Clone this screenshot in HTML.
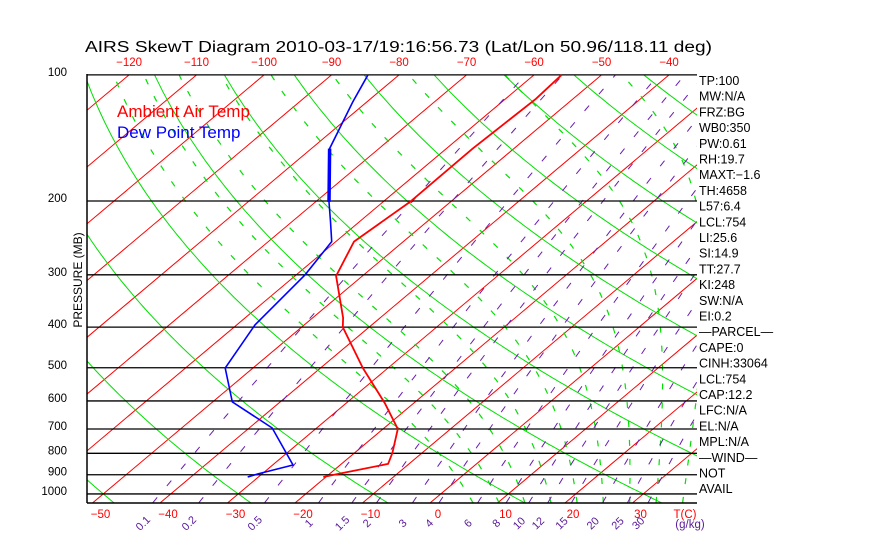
<!DOCTYPE html>
<html><head><meta charset="utf-8"><style>
html,body{margin:0;padding:0;background:#fff;width:870px;height:560px;overflow:hidden}
svg{display:block;font-family:"Liberation Sans",sans-serif}
</style></head><body>
<svg id="chart" width="870" height="560" viewBox="0 0 870 560" xmlns="http://www.w3.org/2000/svg">
<defs><clipPath id="plotclip"><rect x="87" y="74" width="610" height="429"/></clipPath></defs>
<text x="85" y="52" font-size="15.5" textLength="627" lengthAdjust="spacingAndGlyphs">AIRS SkewT Diagram 2010-03-17/19:16:56.73 (Lat/Lon 50.96/118.11 deg)</text>
<g id="bg" clip-path="url(#plotclip)"></g>
<g id="fg"></g>
<text x="117" y="117" font-size="17" fill="#ff0000">Ambient Air Temp</text>
<text x="117" y="138" font-size="17" fill="#0000ff">Dew Point Temp</text>
<text transform="translate(82,280) rotate(-90)" font-size="12" text-anchor="middle">PRESSURE (MB)</text>
</svg>
<script>
// ---- data ----
const tempP = [100,114,150,201,250,302,380,400,501,607,700,798,848,896,911];
const tempT = [-55.9,-55.5,-56.1,-56.0,-57.3,-53.9,-45.5,-43.9,-33.7,-24.3,-17.8,-14.4,-13.1,-18.7,-20.4];
const dewP = [100,116,150,201,224,250,300,380,395,501,603,696,853,896,911];
const dewT = [-84.6,-82.1,-77.3,-68.0,-64.3,-60.6,-58.7,-57.5,-57.3,-54.1,-47.1,-36.6,-27.0,-30.6,-31.6];
const pressureLevels = [100,200,300,400,500,600,700,800,900,1000];
const bottomTempTicks = [-50,-40,-30,-20,-10,0,10,20,30];
const topTempTicks = [-120,-110,-100,-90,-80,-70,-60,-50,-40];
const mixingRatios = [0.1,0.2,0.5,1,1.5,2,3,4,6,8,10,12,15,20,25,30];
const mixingLabels = ["0.1","0.2","0.5","1","1.5","2","3","4","6","8","10","12","15","20","25","30"];
const statLabels = ["TP:100","MW:N/A","FRZ:BG","WB0:350","PW:0.61","RH:19.7","MAXT:-1.6","TH:4658","L57:6.4","LCL:754","LI:25.6","SI:14.9","TT:27.7","KI:248","SW:N/A","EI:0.2","\u2014PARCEL\u2014","CAPE:0","CINH:33064","LCL:754","CAP:12.2","LFC:N/A","EL:N/A","MPL:N/A","\u2014WIND\u2014"," NOT"," AVAIL"];
// ---- axes ----
const Y0=503, X0=430, PX_PER_C=6.75, SKEW=1.189;
function yP(p){return 201+182*Math.log(p/200);}
function xT(t,p){return X0+PX_PER_C*t+SKEW*(Y0-yP(p));}
const NS="http://www.w3.org/2000/svg";
const bg=document.getElementById('bg'), fg=document.getElementById('fg');
function mk(tag,attrs,parent){const e=document.createElementNS(NS,tag);for(const k in attrs)e.setAttribute(k,attrs[k]);parent.appendChild(e);return e;}
function pathFrom(pts){return pts.map((q,i)=>(i?'L':'M')+q[0].toFixed(1)+','+q[1].toFixed(1)).join('');}
// isotherms
for(let t=-170;t<=50;t+=10){
  const e=mk('line',{x1:xT(t,1050),y1:yP(1050),x2:xT(t,100),y2:yP(100),stroke:'#ff0000','stroke-width':1},bg);
  
  
}
// dry adiabats
for(let th=-70;th<=230;th+=20){
  const pts=[];for(let p=1050;p>=99;p-=10){pts.push([xT((th+273.15)*Math.pow(p/1000,0.286)-273.15,p),yP(p)]);}
  const e=mk('path',{d:pathFrom(pts),stroke:'#00e000','stroke-width':1,fill:'none'},bg);
  
  
}
// moist adiabats
function es(t){return 6.112*Math.exp(17.67*t/(t+243.5));}
function moistRate(t,p){const T=t+273.15,ws=0.622*es(t)/(p-es(t)),L=2.5e6,Rd=287,cp=1004;
  return (Rd*T+L*ws)/(cp+L*L*ws*0.622/(Rd*T*T))/p;}
for(let t0=4;t0<=40;t0+=4){
  const pts=[];let t=t0;
  for(let q=1000;q<1050;q+=1){t+=moistRate(t,q);}
  for(let p=1050;p>=100;p-=2){pts.push([xT(t,p),yP(p)]);t-=moistRate(t,p)*2;}
  const e=mk('path',{d:pathFrom(pts),stroke:'#00e000','stroke-width':1.2,fill:'none','stroke-dasharray':'6,13'},bg);
  
  
}
// mixing ratio lines
function tdFromW(w,p){const e=w*p/(622+w);const l=Math.log(e/6.112);return 243.5*l/(17.67-l);}
mixingRatios.forEach((w,i)=>{
  const pts=[];for(let p=1050;p>=100;p-=10){pts.push([xT(tdFromW(w,p),p),yP(p)]);}
  const e=mk('path',{d:pathFrom(pts),stroke:'#6a1bb0','stroke-width':1,fill:'none','stroke-dasharray':'7,15'},bg);
  
  
  const x=xT(tdFromW(w,1050),1050)-10;
  const lb=mk('text',{x:x,y:527,'font-size':11,fill:'#5a1a9a','text-anchor':'middle',transform:'rotate(-45 '+x+' 523)'},fg);
  lb.textContent=mixingLabels[i];
  
  
});
// isobars
pressureLevels.forEach(p=>{
  const y=yP(p);
  const l=mk('line',{x1:87,y1:y,x2:697,y2:y,stroke:'#000','stroke-width':1.3},fg);
  
  
  const t=mk('text',{x:67,y:y+1,'font-size':11.5,'text-anchor':'end'},fg);
  t.textContent=p;
  
  
});
// frame
const fb=mk('line',{x1:87,y1:503,x2:697,y2:503,stroke:'#000','stroke-width':1.5},fg);


const fl=mk('line',{x1:87,y1:74,x2:87,y2:503,stroke:'#000','stroke-width':1.5},fg);


// temperature tick labels
bottomTempTicks.forEach(t=>{
  const x=X0+PX_PER_C*t+8;
  const e=mk('text',{x:x,y:518,'font-size':11.5,fill:'#ff0000','text-anchor':'middle'},fg);
  e.textContent=(t<0?'\u2212':'')+Math.abs(t);
  
  
});
const tc=mk('text',{x:685,y:518,'font-size':11.5,fill:'#ff0000','text-anchor':'middle'},fg);
tc.textContent='T(C)';


const gk=mk('text',{x:690,y:528,'font-size':11.5,fill:'#5a1a9a','text-anchor':'middle'},fg);
gk.textContent='(g/kg)';


topTempTicks.forEach(t=>{
  const x=xT(t,100);
  const e=mk('text',{x:x,y:66,'font-size':11.5,fill:'#ff0000','text-anchor':'middle'},fg);
  e.textContent='\u2212'+Math.abs(t);
  
  
});
// profiles
function prof(P,T){return P.map((p,i)=>[xT(T[i],p),yP(p)]);}
const tp=mk('path',{d:pathFrom(prof(tempP,tempT)),stroke:'#ff0000','stroke-width':1.8,fill:'none'},fg);


const dp=mk('path',{d:pathFrom(prof(dewP,dewT)),stroke:'#0000ff','stroke-width':1.6,fill:'none'},fg);


const dth=mk('path',{d:pathFrom(prof(dewP.slice(2,4),dewT.slice(2,4))),stroke:'#0000ff','stroke-width':3.5,fill:'none'},fg);


// stats
statLabels.forEach((s,i)=>{
  const e=mk('text',{x:699,y:85+i*15.7,'font-size':12.5},fg);
  e.textContent=s.replace('-1.6','\u22121.6');
  
  
});
</script>
</body></html>
